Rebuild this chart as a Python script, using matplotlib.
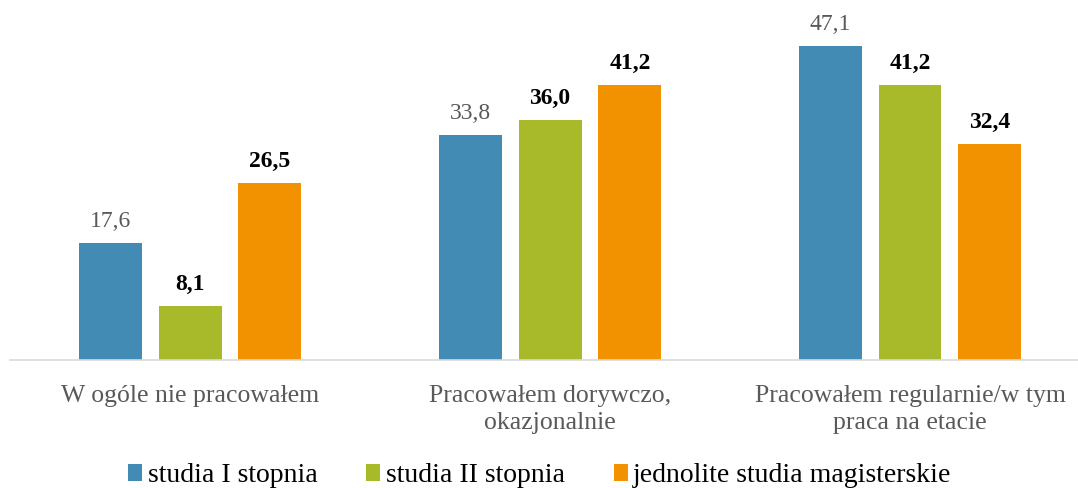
import matplotlib
matplotlib.use("Agg")
import matplotlib.pyplot as plt
import numpy as np
from matplotlib.patches import Patch

categories = ["W ogóle nie pracowałem", "Pracowałem dorywczo,\nokazjonalnie",
              "Pracowałem regularnie/w tym\npraca na etacie"]
series_names = ["studia I stopnia", "studia II stopnia", "jednolite studia magisterskie"]
s1 = [17.6, 33.8, 47.1]
s2 = [8.1, 36.0, 41.2]
s3 = [26.5, 41.2, 32.4]
colors = ["#428BB4", "#A8B92A", "#F39200"]

plt.rcParams['font.family'] = ['Liberation Serif', 'DejaVu Serif']

fig = plt.figure(figsize=(10.78, 4.88), dpi=100)
ax = fig.add_axes([10/1078, 128/488, 1080/1078, 360/488])

x = np.arange(len(categories))
width = 0.175
step = 0.222
for i, (vals, c) in enumerate(zip([s1, s2, s3], colors)):
    pos = x + (i - 1) * step
    bars = ax.bar(pos, vals, width, color=c, zorder=2)
    for b, v in zip(bars, vals):
        lab = f"{v:.1f}".replace(".", ",")
        if i == 0:
            ax.annotate(lab, (b.get_x() + b.get_width()/2, v), xytext=(0, 8),
                        textcoords="offset points", ha="center", va="bottom",
                        fontsize=17, color="#595959")
        else:
            ax.annotate(lab, (b.get_x() + b.get_width()/2, v), xytext=(0, 8),
                        textcoords="offset points", ha="center", va="bottom",
                        fontsize=17, color="black", fontweight="bold")

ax.set_xlim(-0.5, 2.5)
ax.set_ylim(0, 54)
ax.set_yticks([])
ax.set_xticks(x)
ax.set_xticklabels(categories, fontsize=18.5, color="#595959", linespacing=1.3)
ax.tick_params(axis='x', length=0, pad=18)
for s in ["top", "right", "left"]:
    ax.spines[s].set_visible(False)
ax.spines["bottom"].set_color("#D9D9D9")
ax.spines["bottom"].set_linewidth(1.2)

handles = [Patch(facecolor=c, label=n) for c, n in zip(colors, series_names)]
fig.legend(handles=handles, loc="center", bbox_to_anchor=(540/1078, 12/488), ncol=3,
           frameon=False, fontsize=20, handlelength=0.5, handleheight=0.55,
           handletextpad=0.2, columnspacing=1.76, borderpad=0.1)

fig.savefig("out.png", dpi=100)
